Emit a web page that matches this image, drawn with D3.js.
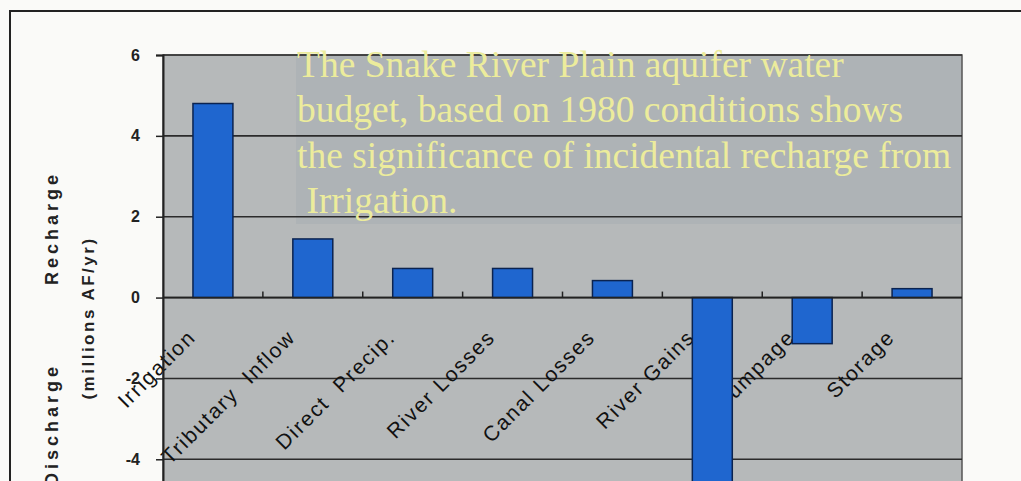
<!DOCTYPE html>
<html>
<head>
<meta charset="utf-8">
<script src="https://cdn.jsdelivr.net/npm/d3@7"></script>
<style>
  html, body { margin: 0; padding: 0; background: #fafaf8; }
  svg { display: block; }
</style>
</head>
<body>
<div id="chart"></div>
<script>
// water budget, 1980 conditions (millions AF/yr)
var categories = ["Irrigation", "Tributary  Inflow", "Direct  Precip.", "River Losses",
                  "Canal Losses", "River Gains", "Pumpage", "Storage"]
var budget = [4.8, 1.45, 0.72, 0.72, 0.42, -7.1, -1.14, 0.22]
var yTicks = [6, 4, 2, 0, -2, -4, -6, -8]
var note = ["The Snake River Plain aquifer water",
            "budget, based on 1980 conditions shows",
            "the significance of incidental recharge from",
            " Irrigation."]

var width = 1021, height = 481
var plot = { left: 163, right: 962, top: 55 }

var svg = d3.select("#chart")
    .append("svg")
    .attr("width", width)
    .attr("height", height)

// outer frame (only top/left visible)
svg.append("path")
    .attr("d", "M10,481L10,11L1021,11")
    .attr("fill", "none")
    .attr("stroke", "#222")
    .attr("stroke-width", 2)

var x = d3.scaleBand()
    .domain(categories)
    .range([plot.left, plot.right])
    .paddingInner(0.6)
    .paddingOuter(0.3)

var y = d3.scaleLinear()
    .domain([-8, 6])
    .range([621, plot.top])

// plot background
svg.append("rect")
    .attr("x", plot.left).attr("y", plot.top)
    .attr("width", plot.right - plot.left)
    .attr("height", y(-8) - plot.top)
    .attr("fill", "#b6b9ba")
    .attr("stroke", "#555")
    .attr("stroke-width", 1.5)

// text box behind the note (slightly darker)
svg.append("rect")
    .attr("x", 296).attr("y", plot.top + 1)
    .attr("width", plot.right - 297)
    .attr("height", 168)
    .attr("fill", "#aeb3b6")

// gridlines
svg.append("g")
    .selectAll("line")
    .data(yTicks.filter(d => d != 6))
    .enter()
    .append("line")
    .attr("x1", plot.left).attr("x2", plot.right)
    .attr("y1", d => y(d)).attr("y2", d => y(d))
    .attr("stroke", "#2b2b2b")
    .attr("stroke-width", 1.6)

svg.append("line")
    .attr("x1", plot.left).attr("x2", plot.right)
    .attr("y1", y(6)).attr("y2", y(6))
    .attr("stroke", "#333").attr("stroke-width", 1.6)

// note text
svg.append("g")
    .selectAll("text")
    .data(note)
    .enter()
    .append("text")
    .attr("x", 297)
    .attr("y", (d, i) => 77 + i * 45.3)
    .attr("xml:space", "preserve")
    .attr("font-family", "'Liberation Serif', 'Times New Roman', serif")
    .attr("font-size", 37.5)
    .attr("fill", "#ecec9c")
    .text(d => d)

// category labels, slanted (drawn under the bars, as in the original)
svg.append("g")
    .selectAll("text")
    .data(categories)
    .enter()
    .append("text")
    .attr("transform", d => "translate(" + (x(d) + x.bandwidth() / 2 - 16) + "," + (y(0) + 41) + ") rotate(-45)")
    .attr("text-anchor", "end")
    .attr("xml:space", "preserve")
    .attr("font-family", "Arial, 'Liberation Sans', sans-serif")
    .attr("font-size", 21)
    .attr("letter-spacing", 1.8)
    .attr("fill", "#111")
    .text(d => d)

// bars
svg.append("g")
    .selectAll("rect")
    .data(budget)
    .enter()
    .append("rect")
    .attr("x", (d, i) => x(categories[i]))
    .attr("y", d => y(Math.max(0, d)))
    .attr("width", x.bandwidth())
    .attr("height", d => Math.abs(y(d) - y(0)))
    .attr("fill", "#1f66cf")
    .attr("stroke", "#0b2350")
    .attr("stroke-width", 1.5)

// zero line with category ticks
svg.append("line")
    .attr("x1", plot.left).attr("x2", plot.right)
    .attr("y1", y(0)).attr("y2", y(0))
    .attr("stroke", "#222").attr("stroke-width", 1.8)

svg.append("g")
    .selectAll("line")
    .data(categories.slice(1))
    .enter()
    .append("line")
    .attr("x1", d => x(d) - x.step() * x.paddingInner() / 2)
    .attr("x2", d => x(d) - x.step() * x.paddingInner() / 2)
    .attr("y1", y(0)).attr("y2", y(0) - 6)
    .attr("stroke", "#222").attr("stroke-width", 1.5)

// y axis
var yAxis = d3.axisLeft(y)
    .tickValues(yTicks)
    .tickSize(7)
    .tickPadding(16)
    .tickFormat(d => d)

var ax = svg.append("g")
    .attr("transform", "translate(" + plot.left + ",0)")
    .call(yAxis)
ax.select(".domain").attr("stroke", "#222").attr("stroke-width", 2)
ax.selectAll(".tick line").attr("stroke", "#222").attr("stroke-width", 1.5)
ax.selectAll(".tick text")
    .attr("font-family", "Arial, 'Liberation Sans', sans-serif")
    .attr("font-weight", "bold")
    .attr("font-size", 16)
    .attr("fill", "#222")

// y titles
var tfont = "Arial, 'Liberation Sans', sans-serif"
svg.append("text")
    .attr("transform", "translate(58,228) rotate(-90)")
    .attr("text-anchor", "middle")
    .attr("font-family", tfont).attr("font-weight", "bold")
    .attr("font-size", 18).attr("letter-spacing", 4)
    .attr("fill", "#222")
    .text("Recharge")

svg.append("text")
    .attr("transform", "translate(58,363) rotate(-90)")
    .attr("text-anchor", "end")
    .attr("font-family", tfont).attr("font-weight", "bold")
    .attr("font-size", 18).attr("letter-spacing", 4)
    .attr("fill", "#222")
    .text("Discharge")

svg.append("text")
    .attr("transform", "translate(94,318) rotate(-90)")
    .attr("text-anchor", "middle")
    .attr("font-family", tfont).attr("font-weight", "bold")
    .attr("font-size", 17).attr("letter-spacing", 2.5)
    .attr("fill", "#222")
    .text("(millions AF/yr)")
</script>
</body>
</html>
